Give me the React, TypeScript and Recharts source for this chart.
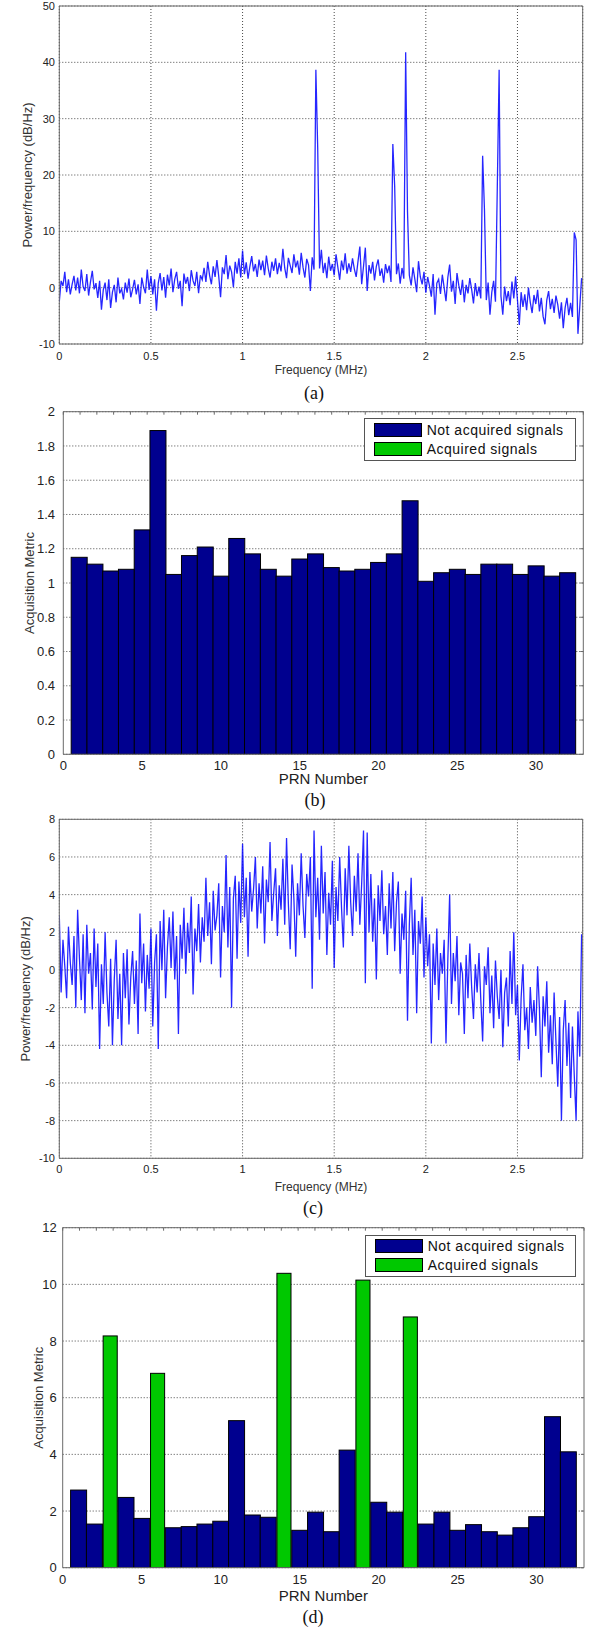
import React from 'react';
import { ComposedChart, Line, Bar, XAxis, YAxis, CartesianGrid, Legend } from 'recharts';

// ---------- data ----------
const FREQ_STEP = 0.01; // MHz between PSD bins
const FREQ_MAX = 2.856;
const FREQ_TICKS = [0, 0.5, 1, 1.5, 2, 2.5];

const PSD_A_TICKS = [-10, 0, 10, 20, 30, 40, 50];
const PSD_C_TICKS = [-10, -8, -6, -4, -2, 0, 2, 4, 6, 8];

// panel (a): PSD with narrow-band interference spikes (dB/Hz), 0.01 MHz bins
const PSD_A = [
  -2.5, 1.2, 0.3, 2.8, -0.8, 1.5, -1.2, 0.6, 2.1, -0.5,
  1.8, -1.0, 3.2, 0.2, -0.6, 2.4, -1.4, 1.0, 3.0, -0.3,
  0.8, -1.8, 1.2, -3.9, -0.4, 0.9, -2.2, 1.5, -3.6, -0.8,
  0.5, -2.6, 1.8, -1.0, -0.2, -2.1, 0.9, -0.9, 1.6, -1.7,
  -0.3, 1.4, -1.2, 0.6, -2.9, 1.8, 0.1, -1.0, 3.2, -0.4,
  2.0, -1.2, 1.5, -4.1, 0.8, 2.6, -0.5, 1.9, -1.8, 2.3,
  0.4, 3.4, -0.8, 1.5, 2.8, -0.2, 1.2, -3.3, 2.5, 0.7,
  1.9, -0.6, 3.1, 1.2, 0.3, 2.8, -1.0, 2.2, 1.4, 3.5,
  1.0, 4.6, 2.2, 0.6, 3.8, 1.9, 4.9, 2.0, -1.7, 3.6,
  2.4, 5.8, 1.5, 3.9, 2.8, 0.1, 4.6, 2.5, 5.2, 1.8,
  6.6, 2.4, 4.5, 1.6, 3.8, 5.6, 2.9, 4.2, 1.9, 5.0,
  3.1, 4.8, 2.2, 5.7, 3.4, 1.8, 4.6, 3.0, 5.2, 2.4,
  4.4, 2.9, 6.9, 3.5, 1.7, 5.3, 3.9, 2.6, 5.9, 3.6,
  4.8, 2.3, 6.2, 3.6, 1.8, 5.1, 4.0, -0.6, 5.4, 3.2,
  38.7, 24.8, 3.4, 6.7, 2.6, 4.4, 1.7, 5.5, 3.0, 4.2,
  2.2, 5.9, 3.6, 1.4, 4.8, 3.1, 6.1, 2.5, 4.3, 2.8,
  5.2, 3.3, 1.9, 4.7, 7.3, 0.6, 3.8, 7.1, -0.6, 4.0,
  2.5, 4.6, 1.3, 3.8, 5.0, 2.1, 3.4, 0.9, 4.2, 2.6,
  3.9, 1.0, 25.5, 18.0, 2.4, 4.3, 0.7, 3.5, 1.6, 41.8,
  13.5, 2.2, 0.4, 3.6, 1.5, -0.8, 4.7, 1.9, 0.6, 2.8,
  -0.9, 1.9, 0.3, -1.6, 2.4, -4.8, 0.8, 1.5, -1.1, 2.3,
  0.0, -2.4, 1.8, 4.1, -0.7, 1.2, -2.9, 2.6, 0.4, -1.3,
  1.4, -2.6, 0.5, -1.0, 1.7, -0.3, -2.8, 0.8, -1.5, 0.2,
  -1.9, 23.4, 13.8, -2.2, 0.9, -4.8, -0.8, 1.2, -2.5, 17.8,
  38.7, -1.5, -4.8, 0.2, -2.4, -0.6, -3.1, 1.1, -1.9, 2.0,
  -2.2, -6.6, -0.8, -3.4, -1.2, -4.0, 0.0, -2.6, -4.5, -1.3,
  -2.9, -0.4, -4.2, -1.8, -5.1, -6.5, -2.2, -0.6, -3.8, -2.0,
  -4.5, -1.4, -3.0, -5.5, -2.6, -7.2, -3.6, -1.8, -4.9, -2.7,
  -5.2, 9.8, 8.5, -8.2, -3.4, 1.7,
];

// panel (c): PSD after interference mitigation (dB/Hz), 0.01 MHz bins
const PSD_C = [
  2.9, -1.2, 1.6, 0.2, -1.5, 2.3, 0.4, -0.8, 1.8, -2.0,
  3.2, 0.6, -1.6, 1.9, -2.3, 2.4, -0.2, 0.9, -2.1, 2.2,
  -0.9, 1.4, -4.2, 0.3, -1.8, 2.0, -1.2, -3.0, 0.6, -4.0,
  -0.5, 1.6, -2.6, -0.2, -4.0, 0.9, -1.5, 1.1, -2.9, -0.4,
  1.0, -1.8, 0.5, -3.4, 3.0, -0.7, 1.4, -2.2, 0.8, -1.0,
  2.2, -3.0, 0.4, 1.9, -4.2, 2.6, 0.0, 3.2, -1.5, 1.2,
  2.8, 0.1, 3.1, -0.5, 1.8, -3.4, 2.4, 0.6, 3.3, -0.2,
  2.5, 0.9, 3.9, -1.3, 2.2, 1.0, 3.5, 0.4, 2.8, 1.5,
  4.9, 1.8, 3.6, 0.3, 4.2, 2.1, 2.9, 4.6, -0.4, 3.4,
  2.0, 6.1, 1.2, 4.4, -2.0, 3.8, 5.0, 0.6, 4.7, 2.5,
  6.7, 2.8, 4.9, 0.7, 5.2, 3.1, 4.3, 6.0, 2.2, 4.6,
  3.0, 5.5, 1.4, 4.8, 3.6, 6.8, 2.6, 4.1, 5.4, 1.8,
  4.5, 3.2, 5.9, 2.4, 7.0, 3.5, 1.1, 5.6, 3.8, 0.7,
  4.6, 2.9, 6.2, 3.4, 1.7, 5.1, 3.9, 6.0, -1.0, 7.4,
  2.8, 4.9, 1.6, 6.6, 3.0, 5.2, 0.8, 4.1, 2.4, 5.8,
  0.1, 4.4, 2.6, 6.0, 3.3, 1.2, 5.4, 2.9, 6.6, 3.6,
  1.8, 5.0, 3.1, 6.2, 2.4, 4.6, 7.4, -0.7, 7.3, 2.0,
  5.1, 1.5, 3.8, -0.5, 4.5, 2.6, 5.3, 1.9, 3.4, 0.8,
  4.6, 2.2, 5.2, 1.0, 3.6, 4.7, -0.2, 3.0, 1.6, 4.2,
  -2.7, 2.4, 4.9, 0.8, 3.2, -2.3, 2.6, 1.4, 3.9, -0.4,
  2.8, 0.2, 1.9, -3.9, 1.4, -0.8, 2.2, -1.6, 0.9, -0.2,
  1.6, -3.9, 0.5, 4.0, -1.8, 0.9, -0.6, 1.8, -2.4, 0.4,
  -0.2, -3.4, 0.8, -1.5, 1.4, -0.9, -2.6, 0.3, -1.2, 0.9,
  -1.6, -3.8, 0.2, -0.8, 1.2, -2.3, -0.3, -3.1, 0.5, -1.4,
  -2.6, 0.0, -4.1, -1.2, -0.4, -3.0, 1.0, -1.8, 2.0, -2.4,
  -0.8, -4.8, -1.5, 0.3, -3.2, -2.0, -4.2, -0.9, -2.8, -1.6,
  -3.5, 0.2, -2.1, -5.7, -1.4, -3.0, -0.6, -4.4, -2.4, -5.0,
  -1.2, -3.8, -6.2, -2.5, -8.0, -3.2, -1.6, -5.1, -2.8, -6.8,
  -3.0, -5.6, -8.0, -2.2, -4.6, 1.9,
];

const PRN = [1, 2, 3, 4, 5, 6, 7, 8, 9, 10, 11, 12, 13, 14, 15, 16, 17, 18, 19, 20, 21, 22, 23, 24, 25, 26, 27, 28, 29, 30, 31, 32];
const PRN_TICKS = [0, 5, 10, 15, 20, 25, 30];
const PRN_MINOR_TICKS = [0, 1, 2, 3, 4, 5, 6, 7, 8, 9, 10, 11, 12, 13, 14, 15, 16, 17, 18, 19, 20, 21, 22, 23, 24, 25, 26, 27, 28, 29, 30, 31, 32, 33];

const METRIC_B = [1.15, 1.11, 1.07, 1.08, 1.31, 1.89, 1.05, 1.16, 1.21, 1.04, 1.26, 1.17, 1.08, 1.04, 1.14, 1.17, 1.09, 1.07, 1.08, 1.12, 1.17, 1.48, 1.01, 1.06, 1.08, 1.05, 1.11, 1.11, 1.05, 1.10, 1.04, 1.06];
const ACQUIRED_B: number[] = [];
const METRIC_B_TICKS = [0, 0.2, 0.4, 0.6, 0.8, 1, 1.2, 1.4, 1.6, 1.8, 2];

const METRIC_D = [2.74, 1.54, 8.18, 2.48, 1.74, 6.86, 1.41, 1.45, 1.54, 1.64, 5.19, 1.86, 1.78, 10.39, 1.32, 1.96, 1.27, 4.15, 10.15, 2.31, 1.96, 8.85, 1.54, 1.96, 1.32, 1.52, 1.27, 1.15, 1.41, 1.80, 5.33, 4.09];
const ACQUIRED_D = [3, 6, 14, 19, 22];
const METRIC_D_TICKS = [0, 2, 4, 6, 8, 10, 12];

const LEGEND_LABELS = ['Not acquired signals', 'Acquired signals'];
const CAPTIONS = ['(a)', '(b)', '(c)', '(d)'];

// ---------- styles ----------
const W = 589;
const FONT = '"Liberation Sans", Arial, Helvetica, sans-serif';
const SERIF = '"Liberation Serif", "Times New Roman", serif';
const AXIS_COLOR = '#6a6a6a';
const GRID_COLOR = '#4a4a4a';
const LINE_COLOR = '#0000ff';
const NAVY = '#00008f';
const GREEN = '#00c800';
const GREEN_BAR_RATIO = 0.88;

type Layout = {
  top: number;
  height: number;
  margin: { top: number; right: number; bottom: number; left: number };
  yAxisWidth: number;
  xAxisHeight: number;
  xTickMargin: number;
  yTickMargin: number;
  yLabelOffset: number;
  xLabelOffset: number;
  legend?: { left: number; top: number; width: number; height: number };
};

const LAYOUT_A: Layout = { top: 0, height: 380, margin: { top: 5, right: 5.3, bottom: 6, left: 0 }, yAxisWidth: 59.3, xAxisHeight: 30, xTickMargin: 6, yTickMargin: 2.3, yLabelOffset: 27, xLabelOffset: 0 };
const LAYOUT_B: Layout = { top: 400, height: 395, margin: { top: 10.7, right: 4.7, bottom: 4.7, left: 0 }, yAxisWidth: 63.3, xAxisHeight: 36, xTickMargin: 4.7, yTickMargin: 6.3, yLabelOffset: 29, xLabelOffset: 6, legend: { left: 364, top: 18.3, width: 212, height: 42.4 } };
const LAYOUT_C: Layout = { top: 810, height: 385, margin: { top: 8.3, right: 5.3, bottom: 3.7, left: 0 }, yAxisWidth: 59.3, xAxisHeight: 33, xTickMargin: 4.7, yTickMargin: 2.3, yLabelOffset: 25, xLabelOffset: 0 };
const LAYOUT_D: Layout = { top: 1215, height: 400, margin: { top: 11.7, right: 4, bottom: 11.3, left: 0 }, yAxisWidth: 62.7, xAxisHeight: 36, xTickMargin: 4.7, yTickMargin: 4, yLabelOffset: 38, xLabelOffset: 2.7, legend: { left: 365, top: 20, width: 211, height: 41.7 } };

const CAPTION_POS = [
  { x: 314, y: 393 },
  { x: 315, y: 800 },
  { x: 313, y: 1208 },
  { x: 313, y: 1617 },
];

// ---------- components ----------
function PsdChart({ values, yTicks, layout }: { values: number[]; yTicks: number[]; layout: Layout }) {
  const data = values.map((v, i) => ({ f: Math.round(i * FREQ_STEP * 1000) / 1000, v }));
  const yDomain = [yTicks[0], yTicks[yTicks.length - 1]];
  return (
    <div style={{ position: 'absolute', left: 0, top: layout.top }}>
      <ComposedChart width={W} height={layout.height} data={data} margin={layout.margin}>
        <CartesianGrid stroke={GRID_COLOR} strokeDasharray="1 2" />
        <XAxis
          dataKey="f"
          type="number"
          domain={[0, FREQ_MAX]}
          ticks={FREQ_TICKS}
          allowDataOverflow
          height={layout.xAxisHeight}
          tickLine={false}
          tickSize={2}
          tickMargin={layout.xTickMargin}
          axisLine={{ stroke: AXIS_COLOR }}
          tick={{ fontSize: 11, fill: '#222' }}
          label={{ value: 'Frequency (MHz)', position: 'insideBottom', offset: layout.xLabelOffset, fontSize: 12, fill: '#333' }}
        />
        <XAxis xAxisId="top" orientation="top" type="number" domain={[0, FREQ_MAX]} ticks={FREQ_TICKS} allowDataOverflow height={1} tickLine={false} tickFormatter={() => ''} axisLine={{ stroke: AXIS_COLOR }} />
        <YAxis
          type="number"
          domain={yDomain}
          ticks={yTicks}
          allowDataOverflow
          interval={0}
          width={layout.yAxisWidth}
          tickLine={false}
          tickSize={2}
          tickMargin={layout.yTickMargin}
          axisLine={{ stroke: AXIS_COLOR }}
          tick={{ fontSize: 11, fill: '#222' }}
          label={{ value: 'Power/frequency (dB/Hz)', angle: -90, position: 'insideLeft', offset: layout.yLabelOffset, style: { textAnchor: 'middle' }, fontSize: 13, fill: '#333' }}
        />
        <YAxis yAxisId="right" orientation="right" type="number" domain={yDomain} ticks={yTicks} allowDataOverflow width={1} tickLine={false} tickFormatter={() => ''} axisLine={{ stroke: AXIS_COLOR }} />
        <Line type="linear" dataKey="v" stroke={LINE_COLOR} strokeOpacity={0.85} strokeWidth={1.3} dot={false} activeDot={false} isAnimationActive={false} />
      </ComposedChart>
    </div>
  );
}

function LegendBox({ width, height }: { width: number; height: number }) {
  const colors = [NAVY, GREEN];
  return (
    <div style={{ width, height, border: '1px solid #555', background: '#fff', boxSizing: 'border-box', position: 'relative', fontFamily: FONT }}>
      {LEGEND_LABELS.map((label, i) => (
        <div key={label} style={{ position: 'absolute', left: 9.3, top: 3.4 + i * 19, height: 14, display: 'flex', alignItems: 'center', whiteSpace: 'nowrap' }}>
          <span style={{ display: 'inline-block', width: 47.4, height: 14, background: colors[i], border: '1px solid #000', boxSizing: 'border-box' }} />
          <span style={{ marginLeft: 5, fontSize: 14, letterSpacing: 0.5, color: '#111', lineHeight: '14px' }}>{label}</span>
        </div>
      ))}
    </div>
  );
}

const renderBar = (props: any) => {
  const { x, y, width, height, payload } = props;
  if (!(width > 0) || !(height > 0)) return <g />;
  const acquired = payload && payload.acquired;
  const w = acquired ? width * GREEN_BAR_RATIO : width;
  const bx = x + (width - w) / 2;
  return <rect x={bx} y={y} width={w} height={height} fill={acquired ? GREEN : NAVY} stroke="#000" strokeWidth={1} />;
};

function MetricChart({ values, acquired, yTicks, layout }: { values: number[]; acquired: number[]; yTicks: number[]; layout: Layout }) {
  const data = PRN.map((prn, i) => ({ prn, metric: values[i], acquired: acquired.includes(prn) }));
  const yDomain = [yTicks[0], yTicks[yTicks.length - 1]];
  const lg = layout.legend!;
  return (
    <div style={{ position: 'absolute', left: 0, top: layout.top }}>
      <ComposedChart width={W} height={layout.height} data={data} margin={layout.margin} barCategoryGap={0} barGap={0}>
        <CartesianGrid stroke={GRID_COLOR} strokeDasharray="1 2" vertical={false} />
        <XAxis
          dataKey="prn"
          type="number"
          domain={[0, 33]}
          ticks={PRN_TICKS}
          allowDataOverflow
          height={layout.xAxisHeight}
          tickLine={false}
          tickSize={2}
          tickMargin={layout.xTickMargin}
          axisLine={{ stroke: AXIS_COLOR }}
          tick={{ fontSize: 13, fill: '#222' }}
          label={{ value: 'PRN Number', position: 'insideBottom', offset: layout.xLabelOffset, fontSize: 15, fill: '#222' }}
        />
        <XAxis xAxisId="top" orientation="top" type="number" domain={[0, 33]} ticks={PRN_MINOR_TICKS} interval={0} allowDataOverflow height={1} tickSize={-3} tickLine={{ stroke: AXIS_COLOR }} tickFormatter={() => ''} axisLine={{ stroke: AXIS_COLOR }} />
        <YAxis
          type="number"
          domain={yDomain}
          ticks={yTicks}
          interval={0}
          allowDataOverflow
          width={layout.yAxisWidth}
          tickLine={false}
          tickSize={2}
          tickMargin={layout.yTickMargin}
          axisLine={{ stroke: AXIS_COLOR }}
          tick={{ fontSize: 13, fill: '#222' }}
          tickFormatter={(v: number) => String(Math.round(v * 10) / 10)}
          label={{ value: 'Acquisition Metric', angle: -90, position: 'insideLeft', offset: layout.yLabelOffset, style: { textAnchor: 'middle' }, fontSize: 13, fill: '#333' }}
        />
        <YAxis yAxisId="right" orientation="right" type="number" domain={yDomain} ticks={yTicks} interval={0} allowDataOverflow width={1} tickSize={-3} tickLine={{ stroke: AXIS_COLOR }} tickFormatter={() => ''} axisLine={{ stroke: AXIS_COLOR }} />
        <Legend
          layout="horizontal"
          verticalAlign="middle"
          align="center"
          wrapperStyle={{ left: lg.left, top: lg.top, width: lg.width, height: lg.height }}
          content={() => <LegendBox width={lg.width} height={lg.height} />}
        />
        <Bar dataKey="metric" name="Acquisition Metric" shape={renderBar} isAnimationActive={false} />
      </ComposedChart>
    </div>
  );
}

export default function App() {
  return (
    <div style={{ position: 'absolute', left: 0, top: 0, width: W, height: 1627, background: '#fff', fontFamily: FONT, overflow: 'hidden' }}>
      <PsdChart values={PSD_A} yTicks={PSD_A_TICKS} layout={LAYOUT_A} />
      <MetricChart values={METRIC_B} acquired={ACQUIRED_B} yTicks={METRIC_B_TICKS} layout={LAYOUT_B} />
      <PsdChart values={PSD_C} yTicks={PSD_C_TICKS} layout={LAYOUT_C} />
      <MetricChart values={METRIC_D} acquired={ACQUIRED_D} yTicks={METRIC_D_TICKS} layout={LAYOUT_D} />
      {CAPTIONS.map((c, i) => (
        <div key={c} style={{ position: 'absolute', left: CAPTION_POS[i].x - 25, top: CAPTION_POS[i].y - 11, width: 50, height: 22, lineHeight: '22px', textAlign: 'center', fontFamily: SERIF, fontSize: 18, color: '#111' }}>
          {c}
        </div>
      ))}
    </div>
  );
}
